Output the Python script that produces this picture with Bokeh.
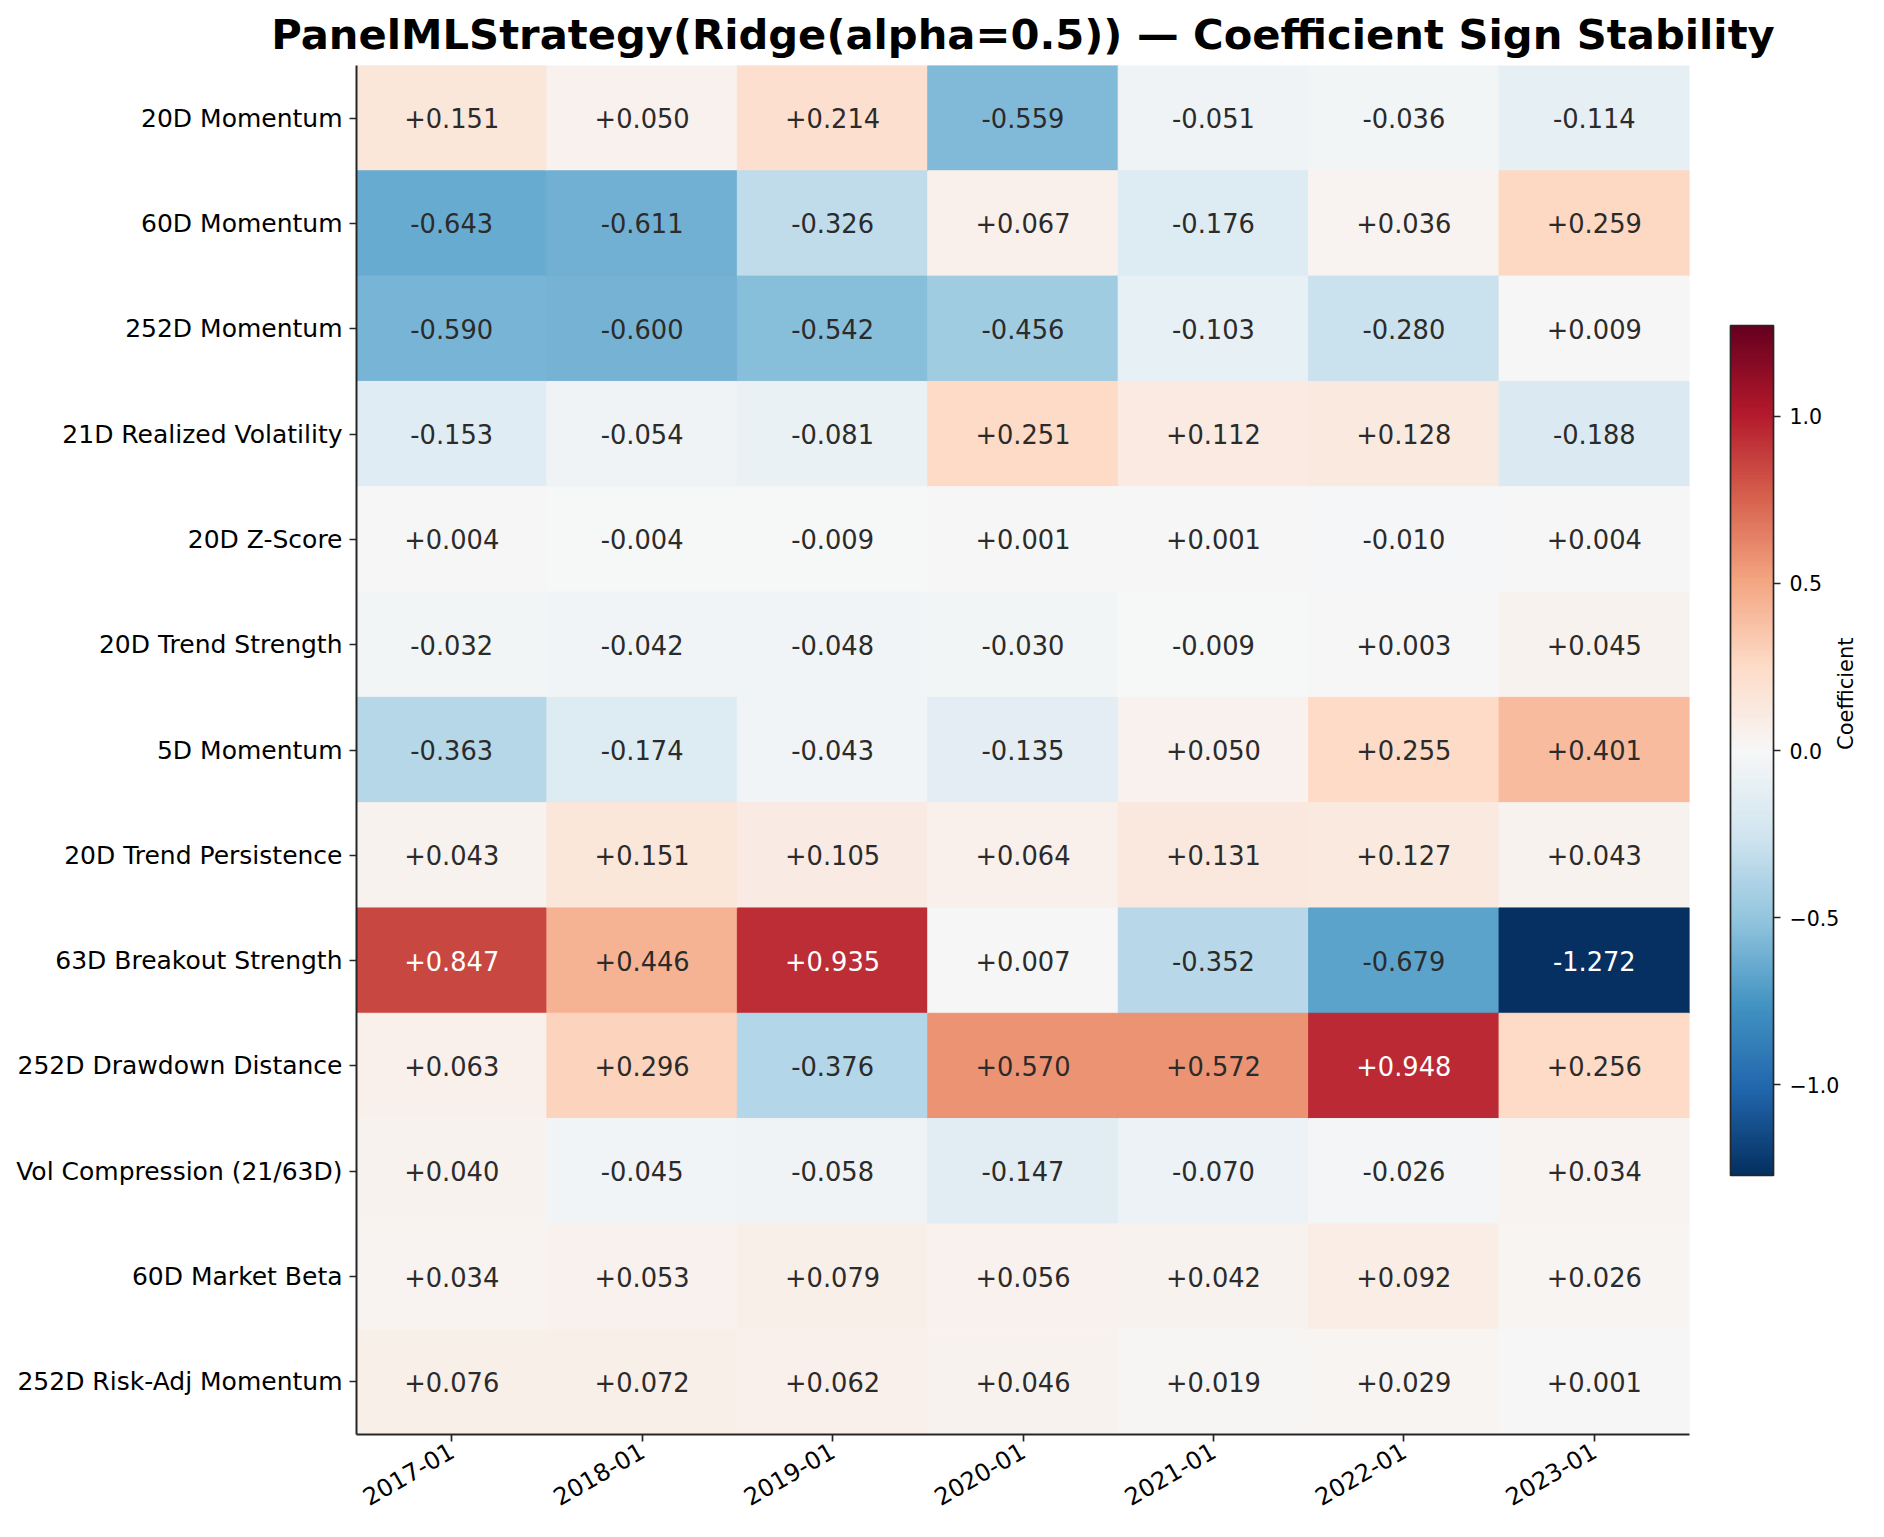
import math
import numpy as np
from bokeh.plotting import figure
from bokeh.models import (ColumnDataSource, FactorRange, LinearColorMapper, FixedTicker,
                          ColorBar, CategoricalAxis)
from bokeh.embed import file_html
from bokeh.resources import INLINE
from bokeh.core.properties import value

features = [
    "20D Momentum", "60D Momentum", "252D Momentum", "21D Realized Volatility",
    "20D Z-Score", "20D Trend Strength", "5D Momentum", "20D Trend Persistence",
    "63D Breakout Strength", "252D Drawdown Distance", "Vol Compression (21/63D)",
    "60D Market Beta", "252D Risk-Adj Momentum",
]
periods = ["2017-01", "2018-01", "2019-01", "2020-01", "2021-01", "2022-01", "2023-01"]

coef_2017 = [0.151, -0.643, -0.590, -0.153, 0.004, -0.032, -0.363, 0.043, 0.847, 0.063, 0.040, 0.034, 0.076]
coef_2018 = [0.050, -0.611, -0.600, -0.054, -0.004, -0.042, -0.174, 0.151, 0.446, 0.296, -0.045, 0.053, 0.072]
coef_2019 = [0.214, -0.326, -0.542, -0.081, -0.009, -0.048, -0.043, 0.105, 0.935, -0.376, -0.058, 0.079, 0.062]
coef_2020 = [-0.559, 0.067, -0.456, 0.251, 0.001, -0.030, -0.135, 0.064, 0.007, 0.570, -0.147, 0.056, 0.046]
coef_2021 = [-0.051, -0.176, -0.103, 0.112, 0.001, -0.009, 0.050, 0.131, -0.352, 0.572, -0.070, 0.042, 0.019]
coef_2022 = [-0.036, 0.036, -0.280, 0.128, -0.010, 0.003, 0.255, 0.127, -0.679, 0.948, -0.026, 0.092, 0.029]
coef_2023 = [-0.114, 0.259, 0.009, -0.188, 0.004, 0.045, 0.401, 0.043, -1.272, 0.256, 0.034, 0.026, 0.001]
columns = [coef_2017, coef_2018, coef_2019, coef_2020, coef_2021, coef_2022, coef_2023]

colorbar_ticks = [-1.0, -0.5, 0.0, 0.5, 1.0]
colorbar_labels = ["\u22121.0", "\u22120.5", "0.0", "0.5", "1.0"]

# RdBu_r colormap (matplotlib style, 256 samples)
rdbu_r = ["#053061", "#2166ac", "#4393c3", "#92c5de", "#d1e5f0", "#f7f7f7",
          "#fddbc7", "#f4a582", "#d6604d", "#b2182b", "#67001f"]
anch = np.array([[int(h[i:i + 2], 16) / 255.0 for i in (1, 3, 5)] for h in rdbu_r])
pos = np.linspace(0, 1, len(rdbu_r))
tt = np.linspace(0, 1, 256)
palette = []
for t in tt:
    rgb = [np.interp(t, pos, anch[:, k]) for k in range(3)]
    palette.append("#%02x%02x%02x" % tuple(int(round(c * 255)) for c in rgb))

vlim = max(abs(v) for col in columns for v in col)
mapper = LinearColorMapper(palette=palette, low=-vlim, high=vlim)

xs, ys, vals, labels, tcols = [], [], [], [], []
for per, col in zip(periods, columns):
    for feat, v in zip(features, col):
        xs.append(per)
        ys.append(feat)
        vals.append(v)
        labels.append(f"{v:+.3f}")
        tcols.append("white" if abs(v) > 0.75 else "#2b2b2b")
src = ColumnDataSource(dict(period=xs, feature=ys, val=vals, label=labels, tcol=tcols))

FONT = "DejaVu Sans"

p = figure(
    x_range=FactorRange(*periods), y_range=FactorRange(*features[::-1]),
    frame_width=1333, frame_height=1369,
    min_border_left=356, min_border_right=195, min_border_top=64, min_border_bottom=104,
    output_backend="svg", toolbar_location=None,
    title="PanelMLStrategy(Ridge(alpha=0.5)) \u2014 Coefficient Sign Stability",
)
p.rect(x="period", y="feature", width=1, height=1, source=src,
       fill_color={"field": "val", "transform": mapper},
       line_color={"field": "val", "transform": mapper}, line_width=1)
p.text(x="period", y="feature", text="label", source=src,
       text_align="center", text_baseline="middle",
       text_font=value(FONT), text_font_size="25.7px", text_color="tcol")

p.title.text_font = FONT
p.title.text_font_size = "41.7px"
p.title.text_font_style = "bold"
p.title.align = "center"
p.title.text_color = "black"
p.title.standoff = 14

p.outline_line_color = None
p.xgrid.visible = False
p.ygrid.visible = False
for ax in (p.xaxis[0], p.yaxis[0]):
    ax.axis_line_width = 2
    ax.axis_line_color = "#262626"
    ax.major_tick_out = 7
    ax.major_tick_in = 0
    ax.major_tick_line_width = 1.7
    ax.major_tick_line_color = "#262626"
    ax.major_label_text_font = FONT
    ax.major_label_text_font_size = "25px"
    ax.major_label_text_color = "black"
    ax.major_label_standoff = 7
p.xaxis.major_label_orientation = math.pi / 6
p.xaxis.major_label_text_font_size = "24px"

cb = ColorBar(
    color_mapper=mapper, orientation="vertical",
    width=43, height=850, padding=0,
    location=(1374, 259),
    ticker=FixedTicker(ticks=colorbar_ticks),
    major_label_overrides={t: l for t, l in zip(colorbar_ticks, colorbar_labels)},
    major_label_text_font=FONT, major_label_text_font_size="20.5px",
    major_label_text_color="black",
    major_tick_in=0, major_tick_out=7, major_tick_line_color="#262626", major_tick_line_width=1.7,
    minor_tick_line_color=None,
    bar_line_color="#262626", bar_line_width=1.7,
    label_standoff=9,
    background_fill_alpha=0, border_line_color=None,
)
p.add_layout(cb, "center")

# colorbar label: an otherwise invisible right-hand axis on the same y range
lab_axis = CategoricalAxis(
    axis_line_color=None, major_tick_line_color=None,
    major_label_text_font_size="0px", major_label_text_alpha=0, major_label_standoff=0,
    major_tick_out=0, major_tick_in=0,
    axis_label="Coefficient", axis_label_standoff=156,
    axis_label_text_font=FONT, axis_label_text_font_size="21px",
    axis_label_text_font_style="normal", axis_label_text_color="black",
)
try:
    lab_axis.axis_label_orientation = math.pi / 2
except Exception:
    pass
p.add_layout(lab_axis, "right")

open("out.html", "w").write(file_html(p, INLINE))
